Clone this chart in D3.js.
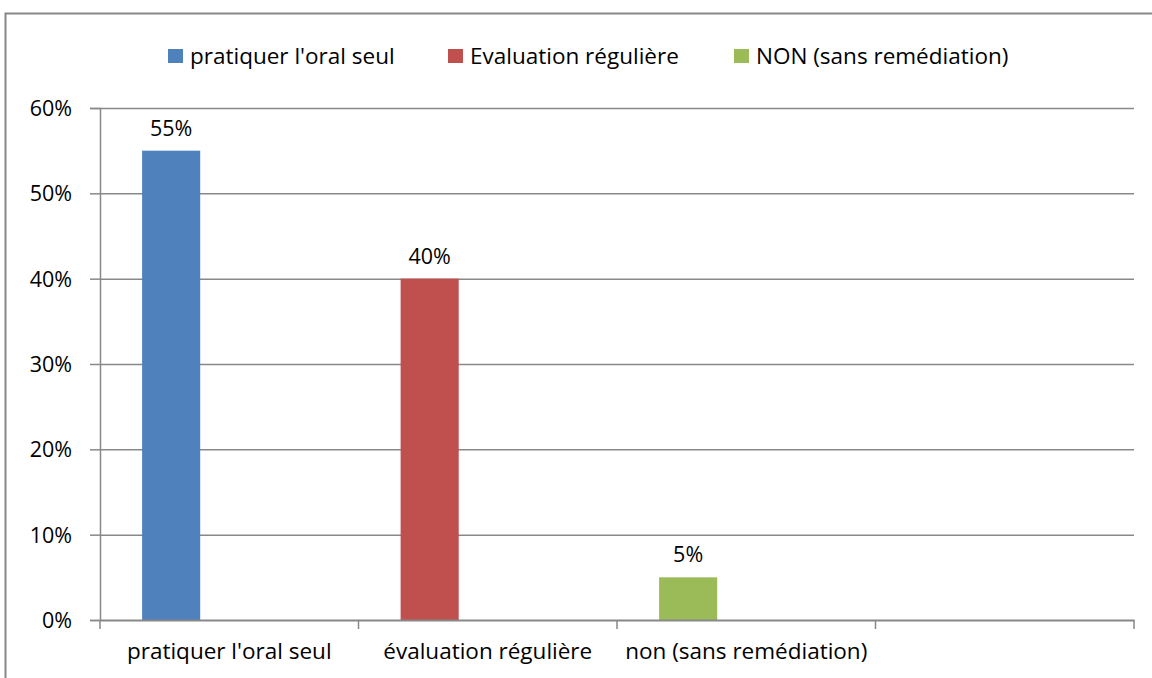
<!DOCTYPE html>
<html>
<head>
<meta charset="utf-8">
<script src="https://cdn.jsdelivr.net/npm/d3@7"></script>
<style>
  body { margin: 0; background: #fff; }
  svg text { font-family: "Open Sans", sans-serif; fill: #000; }
</style>
</head>
<body>
<div class="chart"></div>
<script>
// data
const categories = ["pratiquer l'oral seul", "évaluation régulière", "non (sans remédiation)", ""];
const seriesNames = ["pratiquer l'oral seul", "Evaluation régulière", "NON (sans remédiation)"];
const values = [0.55, 0.40, 0.05];
const colors = ["#4f81bd", "#c0504d", "#9bbb59"];
const yTicks = [0, 0.1, 0.2, 0.3, 0.4, 0.5, 0.6];

const W = 1152, H = 678;
const margin = { top: 108, right: 18, bottom: 58, left: 100 };
const width = W - margin.left - margin.right;
const height = H - margin.top - margin.bottom;
const fontSize = 22.5;
const numSize = 21.5;

const svg = d3.select('.chart').append('svg')
    .attr('width', W)
    .attr('height', H);

// outer chart border
svg.append('rect')
    .attr('x', 5.5).attr('y', 13.5)
    .attr('width', W + 10).attr('height', H)
    .attr('fill', 'none')
    .attr('stroke', '#888')
    .attr('stroke-width', 2);

const g = svg.append('g')
    .attr('transform', `translate(${margin.left},${margin.top})`);

let x = d3.scaleBand()
    .domain(categories)
    .range([0, width]);

// three series slots per category, gap ~145% of a bar
let x1 = d3.scaleBand()
    .domain(seriesNames)
    .range([0, x.bandwidth()])
    .paddingOuter(0.725);

let y = d3.scaleLinear()
    .domain([0, 0.6])
    .range([height, 0]);

// gridlines
g.append('g')
    .selectAll('line')
    .data(yTicks.slice(1))
    .join('line')
    .attr('x1', 0).attr('x2', width)
    .attr('y1', d => y(d) + 0.5).attr('y2', d => y(d) + 0.5)
    .attr('stroke', '#888')
    .attr('stroke-width', 1.5);

// y axis
let yAxis = g.append('g')
    .call(d3.axisLeft(y).tickValues(yTicks).tickFormat(d3.format('.0%')).tickSize(10).tickPadding(18));
yAxis.select('.domain').attr('stroke', '#888').attr('stroke-width', 1.5);
yAxis.selectAll('.tick line').attr('stroke', '#888').attr('stroke-width', 1.5);
yAxis.selectAll('.tick text').attr('font-size', numSize).attr('font-family', '"Open Sans", sans-serif').attr('dy', '0.35em');

// bars, each one in the first series slot of its category
g.append('g')
    .selectAll('rect')
    .data(values)
    .join('rect')
    .attr('x', (d, i) => x(categories[i]) + x1(seriesNames[0]))
    .attr('y', d => y(d))
    .attr('width', x1.bandwidth())
    .attr('height', d => height - y(d))
    .attr('fill', (d, i) => colors[i]);

// data labels
g.append('g')
    .selectAll('text')
    .data(values)
    .join('text')
    .attr('x', (d, i) => x(categories[i]) + x1(seriesNames[0]) + x1.bandwidth() / 2)
    .attr('y', d => y(d) - 15)
    .attr('text-anchor', 'middle')
    .attr('font-size', numSize)
    .text(d => d3.format('.0%')(d));

// x axis
let xAxis = g.append('g')
    .attr('transform', `translate(0,${height})`)
    .call(d3.axisBottom(x).tickSize(0).tickPadding(23));
xAxis.select('.domain').attr('stroke', '#888').attr('stroke-width', 2);
xAxis.selectAll('.tick text').attr('font-size', fontSize).attr('font-family', '"Open Sans", sans-serif');

// category separators
g.append('g')
    .selectAll('line')
    .data(d3.range(categories.length + 1))
    .join('line')
    .attr('x1', i => i * x.step()).attr('x2', i => i * x.step())
    .attr('y1', height).attr('y2', height + 9)
    .attr('stroke', '#888')
    .attr('stroke-width', 1.5);

// legend
const legendX = [168, 448, 734];
const legend = svg.append('g')
    .selectAll('g')
    .data(seriesNames)
    .join('g')
    .attr('transform', (d, i) => `translate(${legendX[i]},49)`);
legend.append('rect')
    .attr('width', 15).attr('height', 14)
    .attr('fill', (d, i) => colors[i]);
legend.append('text')
    .attr('x', 22).attr('y', 7)
    .attr('dy', '0.35em')
    .attr('font-size', fontSize)
    .text(d => d);
</script>
</body>
</html>
